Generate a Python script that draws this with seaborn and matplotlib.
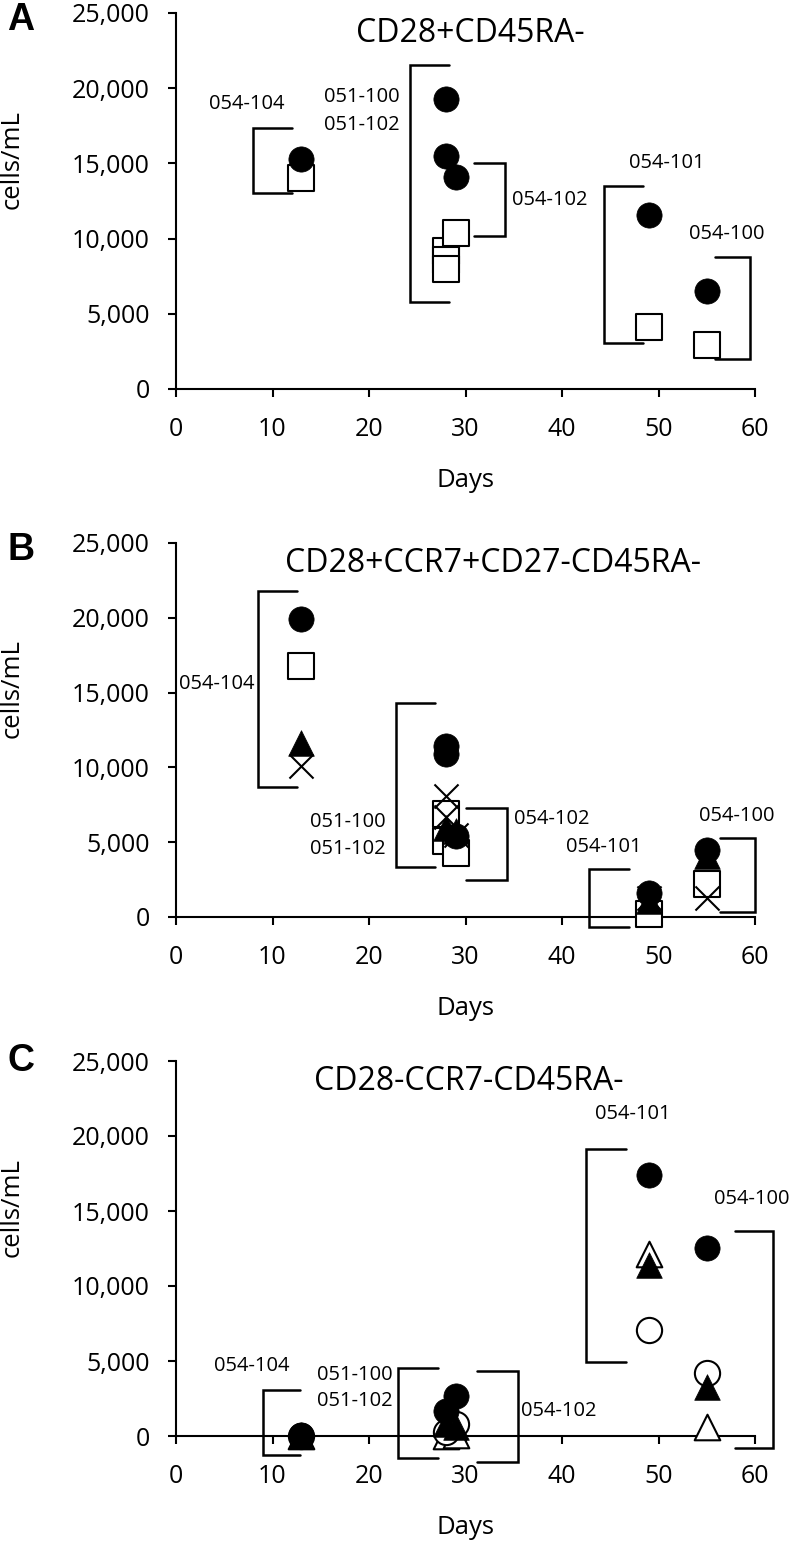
import numpy as np
import pandas as pd
import seaborn as sns
import matplotlib.pyplot as plt
from matplotlib.ticker import FuncFormatter, MultipleLocator

# ---- data (days, cells/mL) ----
# A: CD28+CD45RA-
a_circle_day = [13, 28, 28, 29, 49, 55]
a_circle_val = [15300, 19300, 15500, 14100, 11600, 6500]
a_square_day = [13, 28, 28, 28, 29, 49, 55]
a_square_val = [14000, 9200, 8600, 8000, 10400, 4150, 2950]

# B: CD28+CCR7+CD27-CD45RA-
b_circle_day = [13, 28, 28, 29, 49, 55]
b_circle_val = [19900, 11400, 10900, 5400, 1600, 4500]
b_square_day = [13, 28, 28, 29, 49, 55]
b_square_val = [16800, 6900, 5100, 4300, 200, 2200]
b_tri_day = [13, 28, 29, 49, 55]
b_tri_val = [11600, 5950, 5750, 1100, 4100]
b_x_day = [13, 28, 28, 29, 49, 55]
b_x_val = [10100, 8100, 6700, 5500, 1300, 1250]

# C: CD28-CCR7-CD45RA-
c_circle_day = [13, 28, 29, 49, 55]
c_circle_val = [100, 1700, 2700, 17400, 12550]
c_ocircle_day = [13, 28, 29, 49, 55]
c_ocircle_val = [0, 300, 800, 7050, 4200]
c_tri_day = [13, 28, 29, 49, 55]
c_tri_val = [0, 800, 600, 11400, 3300]
c_otri_day = [13, 28, 29, 49, 55]
c_otri_val = [0, 0, 100, 12150, 600]

titles = ["CD28+CD45RA-", "CD28+CCR7+CD27-CD45RA-", "CD28-CCR7-CD45RA-"]
letters = ["A", "B", "C"]

# ---- styling ----
sns.set_theme(style="ticks")
plt.rcParams['font.family'] = ['Open Sans', 'DejaVu Sans']
for k in ["text.color", "axes.labelcolor", "xtick.color", "ytick.color"]:
    plt.rcParams[k] = "black"

styles = {
    "circle": dict(marker="o", s=330, color="black", edgecolor="black", linewidth=0.5),
    "ocircle": dict(marker="o", s=330, color="white", edgecolor="black", linewidth=1.5),
    "square": dict(marker="s", s=360, color="white", edgecolor="black", linewidth=1.5),
    "tri": dict(marker="^", s=340, color="black", edgecolor="black", linewidth=0.5),
    "otri": dict(marker="^", s=340, color="white", edgecolor="black", linewidth=1.5),
    "x": dict(marker="x", s=300, color="black", linewidth=1.5),
}

panels = [
    dict(series=[("square", a_square_day, a_square_val),
                 ("circle", a_circle_day, a_circle_val)],
         title_xy=(30.5, 23650),
         brackets=[(7.95, 12.0, 17380, 13000), (24.2, 28.3, 21550, 5780),
                   (34.1, 30.9, 15000, 10150), (44.35, 48.4, 13530, 3090),
                   (59.5, 55.9, 8800, 2000)],
         labels=[("054-104", 7.3, 18950), ("051-100", 19.25, 19400),
                 ("051-102", 19.25, 17550), ("054-102", 38.75, 12550),
                 ("054-101", 50.9, 15000), ("054-100", 57.05, 10330)]),
    dict(series=[("square", b_square_day, b_square_val),
                 ("x", b_x_day, b_x_val),
                 ("tri", b_tri_day, b_tri_val),
                 ("circle", b_circle_day, b_circle_val)],
         title_xy=(32.8, 23650),
         brackets=[(8.45, 12.5, 21820, 8670), (22.8, 26.8, 14290, 3330),
                   (34.3, 30.1, 7270, 2440), (42.8, 46.9, 3180, -670),
                   (60.0, 56.4, 5270, 330)],
         labels=[("054-104", 4.2, 15550), ("051-100", 17.85, 6380),
                 ("051-102", 17.85, 4560), ("054-102", 38.9, 6550),
                 ("054-101", 44.3, 4670), ("054-100", 58.1, 6730)]),
    dict(series=[("otri", c_otri_day, c_otri_val),
                 ("ocircle", c_ocircle_day, c_ocircle_val),
                 ("tri", c_tri_day, c_tri_val),
                 ("circle", c_circle_day, c_circle_val)],
         title_xy=(30.3, 23650),
         brackets=[(9.0, 12.9, 3090, -1280), (23.0, 27.1, 4530, -1440),
                   (35.4, 31.2, 4350, -1700), (42.5, 46.6, 19160, 4930),
                   (61.9, 57.9, 13700, -770)],
         labels=[("054-104", 7.8, 4640), ("051-100", 18.5, 4090),
                 ("051-102", 18.5, 2320), ("054-102", 39.7, 1660),
                 ("054-101", 47.3, 21440), ("054-100", 59.7, 15800)]),
]

W, H = 792, 1548
fig = plt.figure(figsize=(W / 100, H / 100), dpi=100)

ax_tops = [13, 543, 1061]
ax_bots = [389, 917, 1436]
letter_y = [20, 550, 1061]
left_px, right_px = 176, 755

for i, p in enumerate(panels):
    ax = fig.add_axes([left_px / W, 1 - ax_bots[i] / H,
                       (right_px - left_px) / W, (ax_bots[i] - ax_tops[i]) / H])
    for kind, days, vals in p["series"]:
        sns.scatterplot(x=days, y=vals, ax=ax, clip_on=False, zorder=3, **styles[kind])

    # brackets around patient groups
    for xv, xa, yt, yb in p["brackets"]:
        ax.plot([xa, xv, xv, xa], [yt, yt, yb, yb], color="black", lw=1.8,
                clip_on=False, solid_joinstyle="miter", zorder=2)
    for txt, x, y in p["labels"]:
        ax.text(x, y, txt, ha="center", va="center", fontsize=14.5)

    ax.text(p["title_xy"][0], p["title_xy"][1], titles[i], ha="center",
            va="center", fontsize=23)

    ax.set_xlim(0, 60)
    ax.set_ylim(0, 25000)
    ax.xaxis.set_major_locator(MultipleLocator(10))
    ax.yaxis.set_major_locator(MultipleLocator(5000))
    ax.yaxis.set_major_formatter(FuncFormatter(lambda v, pos: f"{v:,.0f}"))
    sns.despine(ax=ax)
    for side in ["left", "bottom"]:
        ax.spines[side].set_linewidth(1.5)
        ax.spines[side].set_color("black")
    ax.tick_params(axis="both", direction="out", length=6, width=1.5,
                   colors="black", labelsize=18)
    ax.tick_params(axis="x", pad=14)
    ax.tick_params(axis="y", pad=13)

    ax.set_xlabel("Days", fontsize=18.5)
    ax.set_ylabel("cells/mL", fontsize=18.5)
    ax.xaxis.set_label_coords(0.5, -0.21)
    ax.yaxis.set_label_coords(-0.262, 0.61)

    fig.text(21 / W, 1 - letter_y[i] / H, letters[i], ha="center", va="center",
             fontsize=27, fontweight="bold", family="Liberation Sans")

fig.savefig("out.png", dpi=100)
